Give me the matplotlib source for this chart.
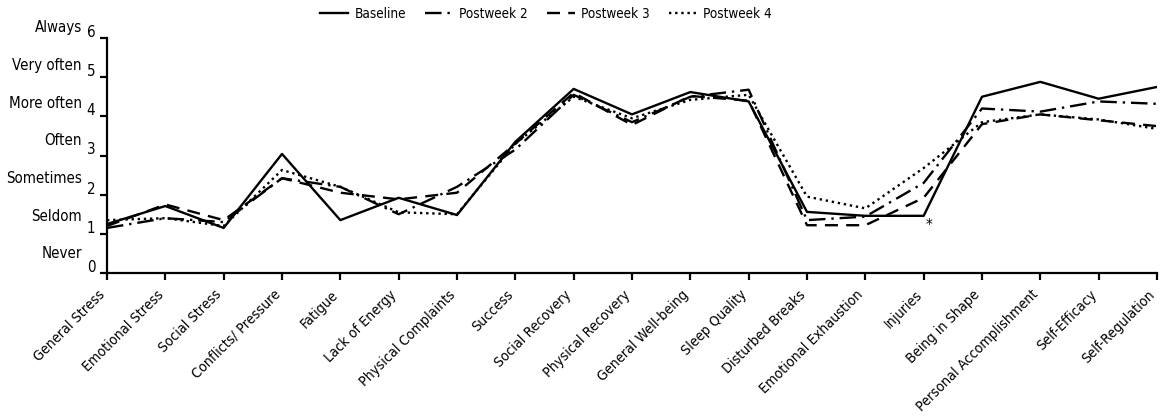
import matplotlib
matplotlib.use("Agg")
import matplotlib.pyplot as plt
from matplotlib import font_manager
from matplotlib.transforms import ScaledTranslation

# procura uma fonte estreita instalada (o original usa uma condensada)
estreitas = [f for f in font_manager.fontManager.ttflist
             if ('Narrow' in f.name or 'Condensed' in f.name or f.stretch in ('condensed', 'semi-condensed'))
             and f.style == 'normal' and f.weight in (400, 'normal', 'regular')]
if estreitas:
    plt.rcParams['font.family'] = [estreitas[0].name, 'DejaVu Sans']
    plt.rcParams['font.stretch'] = estreitas[0].stretch
    TAM = 10.8
else:
    plt.rcParams['font.family'] = ['Roboto', 'DejaVu Sans']
    TAM = 10
TAM_LEG = TAM * 0.9
TAM_X = TAM * 0.95

categorias = ["General Stress", "Emotional Stress", "Social Stress", "Conflicts/ Pressure",
              "Fatigue", "Lack of Energy", "Physical Complaints", "Success", "Social Recovery",
              "Physical Recovery", "General Well-being", "Sleep Quality", "Disturbed Breaks",
              "Emotional Exhaustion", "Injuries", "Being in Shape", "Personal Accomplishment",
              "Self-Efficacy", "Self-Regulation"]

baseline  = [1.25, 1.71, 1.15, 3.04, 1.35, 1.92, 1.48, 3.35, 4.70, 4.05, 4.62, 4.38, 1.56, 1.46, 1.46, 4.50, 4.88, 4.45, 4.75]
postweek2 = [1.15, 1.40, 1.30, 2.42, 2.20, 1.50, 2.20, 3.15, 4.55, 3.85, 4.50, 4.68, 1.35, 1.44, 2.30, 4.20, 4.12, 4.38, 4.32]
postweek3 = [1.20, 1.75, 1.35, 2.42, 2.05, 1.88, 2.05, 3.30, 4.60, 3.78, 4.52, 4.40, 1.22, 1.22, 1.92, 3.80, 4.05, 3.90, 3.75]
postweek4 = [1.35, 1.40, 1.20, 2.63, 2.20, 1.55, 1.50, 3.30, 4.50, 3.95, 4.42, 4.55, 1.95, 1.65, 2.68, 3.85, 4.05, 3.92, 3.68]

niveis_num = [0, 1, 2, 3, 4, 5, 6]
niveis_txt = ["Never", "Seldom", "Sometimes", "Often", "More often", "Very often", "Always"]
pos_txt = [0.51, 1.45, 2.42, 3.39, 4.34, 5.31, 6.28]

fig = plt.figure(figsize=(11.67, 4.18), dpi=100)
ax = fig.add_axes([107/1167, 1 - 273/418, 1050/1167, 235/418])

x = list(range(len(categorias)))
ax.plot(x, baseline, color='black', lw=1.7, ls='-', label='Baseline')
ax.plot(x, postweek2, color='black', lw=1.7, ls=(0, (7, 2.5, 1, 2.5)), label='Postweek 2')
ax.plot(x, postweek3, color='black', lw=1.7, ls=(0, (5.5, 3.5)), label='Postweek 3')
ax.plot(x, postweek4, color='black', lw=1.7, ls=(0, (1, 1.6)), label='Postweek 4')

# asterisco em Injuries
ax.annotate('*', xy=(14, baseline[14]), xytext=(4, -7), textcoords='offset points',
            fontsize=11, ha='center', va='center')

ax.set_xlim(0, 18); ax.set_ylim(0, 6)
ax.spines['top'].set_visible(False); ax.spines['right'].set_visible(False)
ax.spines['left'].set_linewidth(1.6); ax.spines['bottom'].set_linewidth(1.6)
ax.tick_params(axis='both', direction='out', length=5, width=1.6, labelsize=TAM)
ax.tick_params(axis='x', pad=9, labelsize=TAM_X)

ax.set_xticks(x)
ax.set_xticklabels(categorias, rotation=45, ha='right', va='center', rotation_mode='anchor')
desloc_x = ScaledTranslation(-4/100, 0, fig.dpi_scale_trans)
for lb in ax.get_xticklabels():
    lb.set_transform(lb.get_transform() + desloc_x)
ax.set_yticks(niveis_num)
ax.set_yticklabels([str(n) for n in niveis_num])
desloc = ScaledTranslation(0, 7/100, fig.dpi_scale_trans)
for lb in ax.get_yticklabels():
    lb.set_transform(lb.get_transform() + desloc)

for txt, yy in zip(niveis_txt, pos_txt):
    ax.annotate(txt, xy=(0, yy), xycoords=('axes fraction', 'data'), xytext=(-18, 0),
                textcoords='offset points', ha='right', va='center', fontsize=TAM)

fig.legend(loc='center', bbox_to_anchor=(546/1167, 1 - 14/418), ncol=4, frameon=False,
           fontsize=TAM_LEG, handlelength=2.1, handletextpad=0.45, columnspacing=1.4)

fig.savefig("out.png", dpi=100)
